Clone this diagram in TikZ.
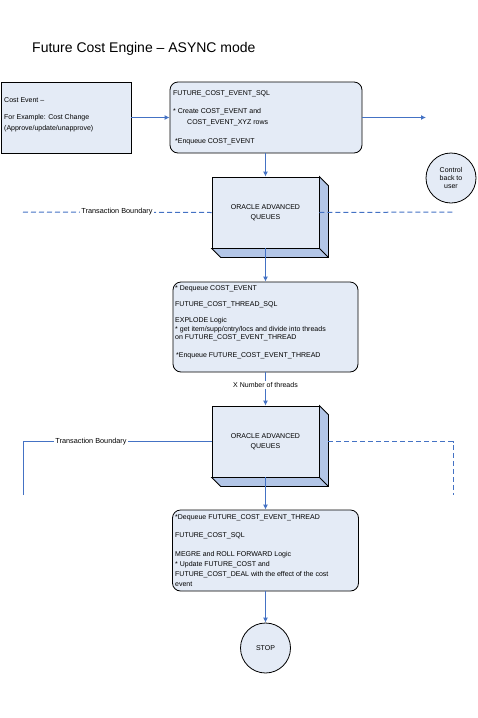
\documentclass[tikz,border=0pt]{standalone}
\usepackage{fontspec}
\setmainfont{Liberation Sans}
\usetikzlibrary{arrows.meta}
\definecolor{boxfill}{HTML}{E4EBF6}
\definecolor{depthfill}{HTML}{B3C6E7}
\definecolor{lineblue}{HTML}{4472C4}
\begin{document}
\begin{tikzpicture}[x=1pt,y=-1pt,
  box/.style={draw=black, fill=boxfill, line width=0.8pt, inner sep=0},
  rbox/.style={box, rounded corners=8pt},
  txt/.style={anchor=north west, inner sep=0, align=left},
  conn/.style={draw=lineblue, line width=1.1pt, -{Latex[length=5pt,width=5pt]}},
  bnd/.style={draw=lineblue, line width=1pt},
  bnddash/.style={bnd, dash pattern=on 5pt off 3pt},
  circ/.style={circle, draw=black, fill=boxfill, line width=0.8pt, minimum size=50pt, inner sep=0, align=center, font=\fontsize{7}{8}\selectfont},
  bndlabel/.style={fill=white, inner sep=1pt, font=\fontsize{7.3}{8}\selectfont}
]
\useasboundingbox (0,0) rectangle (478,718);

\node[anchor=base west, inner sep=0, font=\fontsize{14}{16}\selectfont] (title) at (32,52) {Future Cost Engine – ASYNC mode};

% top boxes
\node[box, minimum width=130pt, minimum height=71pt] (ev) at (66,117.5) {};
\node[txt, font=\fontsize{7}{11}\selectfont] (evt) at (4,97.5) {Cost Event –\\[6pt]For Example: Cost Change\\(Approve/update/unapprove)};

\node[rbox, minimum width=192pt, minimum height=71pt] (sql) at (266,117.5) {};
\node[txt, font=\fontsize{7}{11}\selectfont] (sqlt) at (173,90.5) {FUTURE\_COST\_EVENT\_SQL\\[7pt]* Create COST\_EVENT and\\\hspace*{14pt}COST\_EVENT\_XYZ rows\\[8pt]\hspace*{2pt}*Enqueue COST\_EVENT};

\coordinate (off) at (426,117.5);
\node[circ] (ctrl) at (451,178) {Control\\back to\\user};

% queue 1
\node[box, minimum width=107pt, minimum height=71pt] (oaq1) at (265.5,212.5) {};
\fill[depthfill, draw=black, line width=0.8pt] (oaq1.north east) -- ([shift={(9,9)}]oaq1.north east) -- ([shift={(9,9)}]oaq1.south east) -- ([shift={(9,9)}]oaq1.south west) -- (oaq1.south west) -- (oaq1.south east) -- cycle;
\draw[line width=0.8pt] (oaq1.south east) -- ([shift={(9,9)}]oaq1.south east);
\node[align=center, inner sep=0, font=\fontsize{7}{10}\selectfont] (oaq1t) at (oaq1.center) {ORACLE ADVANCED\\QUEUES};

% boundary 1
\coordinate (tb1l) at (23,212);
\coordinate (tb1r) at (453,212);
\draw[bnddash] (tb1l) -- (oaq1.west);
\draw[bnddash] (oaq1.east) -- (tb1r);
\node[bndlabel] (tb1lab) at (117,212) {Transaction Boundary};

% box 3
\node[rbox, minimum width=185pt, minimum height=90pt] (thr) at (265.5,327) {};
\node[txt, font=\fontsize{7}{8.5}\selectfont] (thrt) at (175,285.5) {* Dequeue COST\_EVENT\\[7.5pt]FUTURE\_COST\_THREAD\_SQL\\[7.5pt]EXPLODE Logic\\* get item/supp/cntry/locs and divide into threads\\on FUTURE\_COST\_EVENT\_THREAD\\[9.5pt]\hspace*{1pt}*Enqueue FUTURE\_COST\_EVENT\_THREAD};

% queue 2
\node[box, minimum width=107pt, minimum height=71pt] (oaq2) at (265.5,441.5) {};
\fill[depthfill, draw=black, line width=0.8pt] (oaq2.north east) -- ([shift={(9,9)}]oaq2.north east) -- ([shift={(9,9)}]oaq2.south east) -- ([shift={(9,9)}]oaq2.south west) -- (oaq2.south west) -- (oaq2.south east) -- cycle;
\draw[line width=0.8pt] (oaq2.south east) -- ([shift={(9,9)}]oaq2.south east);
\node[align=center, inner sep=0, font=\fontsize{7}{10}\selectfont] (oaq2t) at (oaq2.center) {ORACLE ADVANCED\\QUEUES};

% boundary 2
\coordinate (tb2d) at (23,495);
\coordinate (tb2c) at (23,441.5);
\coordinate (tb2r) at (453,441.5);
\coordinate (tb2rd) at (453,495);
\draw[bnd] (tb2d) -- (tb2c) -- (oaq2.west);
\draw[bnddash] ([xshift=9pt]oaq2.east) -- (tb2r) -- (tb2rd);
\node[bndlabel] (tb2lab) at (91,441.5) {Transaction Boundary};

% box 4
\node[rbox, minimum width=186pt, minimum height=81pt] (fut) at (265.5,550.5) {};
\node[txt, font=\fontsize{7}{9.7}\selectfont] (futt) at (175,514.5) {*Dequeue FUTURE\_COST\_EVENT\_THREAD\\[8pt]FUTURE\_COST\_SQL\\[10pt]MEGRE and ROLL FORWARD Logic\\* Update FUTURE\_COST and\\FUTURE\_COST\_DEAL with the effect of the cost\\event};

\node[circ] (stop) at (265.5,648) {STOP};

% connectors
\draw[conn] (ev.east) -- (sql.west);
\draw[conn] (sql.east) -- (off);
\draw[conn] (sql.south -| oaq1.north) -- (oaq1.north);
\draw[conn] (oaq1.south) -- (thr.north -| oaq1.south);
\draw[conn] (thr.south -| oaq2.north) -- (oaq2.north) node[pos=0.38, fill=white, inner sep=1pt, font=\fontsize{7}{8}\selectfont] (xnum) {X Number of threads};
\draw[conn] (oaq2.south) -- (fut.north -| oaq2.south);
\draw[conn] (fut.south) -- (stop.north);
\end{tikzpicture}
\end{document}
